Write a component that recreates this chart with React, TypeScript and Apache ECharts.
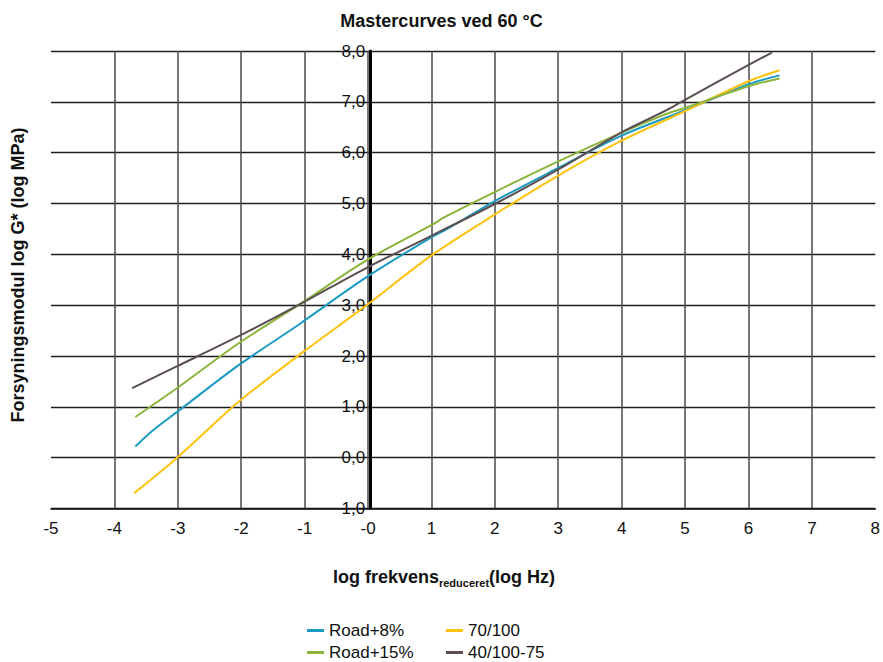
import React, { useEffect, useRef } from "react";
import * as echarts from "echarts";

const titleText = "Mastercurves ved 60 °C";
const yTitle = "Forsyningsmodul log G* (log MPa)";
const seriesNames = ["Road+8%", "70/100", "Road+15%", "40/100-75"];
const seriesColors = ["#1b9bc2", "#ffc20e", "#8cb43a", "#5b504f"];

const road8X = [-3.67, -3.4, -3.01, -2.04, -1.1, -1.0, 0, 0.99, 1.25, 2.02, 3.0, 3.99, 4.97, 6.01, 6.49];
const road8Y = [0.22, 0.53, 0.9, 1.82, 2.61, 2.7, 3.57, 4.33, 4.5, 5.06, 5.7, 6.33, 6.82, 7.35, 7.52];

const pen70X = [-3.69, -3.01, -2.04, -1.0, 0, 0.99, 2.02, 3.0, 3.99, 4.97, 6.01, 6.49];
const pen70Y = [-0.7, 0.0, 1.1, 2.1, 3.02, 3.97, 4.8, 5.55, 6.23, 6.8, 7.41, 7.62];

const road15X = [-3.67, -3.01, -2.04, -1.1, 0, 0.99, 1.25, 2.02, 3.0, 3.99, 4.7, 4.97, 6.01, 6.49];
const road15Y = [0.8, 1.37, 2.25, 3.0, 3.9, 4.57, 4.76, 5.24, 5.83, 6.39, 6.76, 6.87, 7.31, 7.46];

const pmbX = [-3.72, -3.01, -2.04, -1.1, 0, 0.99, 2.03, 3.0, 4.0, 4.7, 4.97, 6.01, 6.37];
const pmbY = [1.37, 1.8, 2.39, 3.0, 3.75, 4.36, 5.01, 5.67, 6.4, 6.83, 7.02, 7.73, 7.97];

const xMin = -5, xMax = 8, yMin = -1, yMax = 8;

const FONT = "'Liberation Sans', Arial, sans-serif";

const GRID_LEFT = 51;
const GRID_RIGHT = 2;
const CHART_W = 883;

// legend slots: [series index, left, top]
const legendSlots: [number, number, number][] = [
  [0, 307, 622],
  [2, 307, 644],
  [1, 446, 622],
  [3, 446, 644],
];

function pairs(xs: number[], ys: number[]) {
  return xs.map((x, i) => [x, ys[i]]);
}

export default function App() {
  const ref = useRef<HTMLDivElement>(null);
  useEffect(() => {
    if (!ref.current) return;
    const chart = echarts.init(ref.current, null, { renderer: "svg" });
    const datasets = [pairs(road8X, road8Y), pairs(pen70X, pen70Y), pairs(road15X, road15Y), pairs(pmbX, pmbY)];
    const plotW = CHART_W - GRID_LEFT - GRID_RIGHT;
    const zeroOffset = ((0 - xMin) / (xMax - xMin)) * plotW;
    chart.setOption({
      animation: false,
      backgroundColor: "#ffffff",
      textStyle: { fontFamily: FONT },
      title: {
        text: titleText,
        left: "center",
        top: 12,
        padding: 0,
        textStyle: { fontFamily: FONT, fontSize: 18, fontWeight: "bold", color: "#111" },
      },
      grid: { left: GRID_LEFT, right: GRID_RIGHT, top: 51, bottom: 153.5, containLabel: false },
      xAxis: {
        type: "value",
        min: xMin,
        max: xMax,
        interval: 1,
        axisLine: { onZero: false, lineStyle: { color: "#111", width: 1.6 } },
        axisTick: { show: false },
        axisLabel: {
          margin: 11,
          fontSize: 17,
          color: "#111",
          fontFamily: FONT,
          formatter: (v: number) => (v === 0 ? "-0" : String(v)),
        },
        splitLine: { show: true, showMinLine: false, showMaxLine: false, lineStyle: { color: "#4a4a4a", width: 1.5 } },
      },
      yAxis: {
        type: "value",
        min: yMin,
        max: yMax,
        interval: 1,
        position: "left",
        offset: -zeroOffset,
        axisLine: { onZero: false, lineStyle: { color: "#000", width: 3 } },
        axisTick: { show: false },
        axisLabel: {
          margin: 5,
          fontSize: 17,
          color: "#111",
          fontFamily: FONT,
          formatter: (v: number) => Math.abs(v).toFixed(1).replace(".", ","),
        },
        splitLine: { show: true, lineStyle: { color: "#1e1e1e", width: 1.4 } },
      },
      legend: legendSlots.map(([si, left, top]) => ({
        data: [seriesNames[si]],
        orient: "horizontal",
        left,
        top,
        padding: 0,
        icon: "rect",
        itemWidth: 17,
        itemHeight: 3,
        itemTextGap: 6,
        textStyle: { fontSize: 17, color: "#111", fontFamily: FONT, lineHeight: 14 },
      })),
      graphic: [
        {
          type: "text",
          x: 18,
          y: 275,
          rotation: Math.PI / 2,
          style: {
            text: yTitle,
            fontSize: 18,
            fontWeight: "bold",
            fontFamily: FONT,
            fill: "#111",
            align: "center",
            verticalAlign: "middle",
          },
        },
        {
          type: "text",
          x: 444,
          y: 577,
          style: {
            text: "{m|log frekvens}{s|reduceret}{m|(log Hz)}",
            align: "center",
            verticalAlign: "middle",
            fill: "#111",
            rich: {
              m: { fontSize: 18, fontWeight: "bold", fontFamily: FONT, lineHeight: 22, fill: "#111" },
              s: { fontSize: 11, fontWeight: "bold", fontFamily: FONT, lineHeight: 8, verticalAlign: "bottom", fill: "#111" },
            },
          },
        },
      ],
      series: seriesNames.map((name, i) => ({
        name,
        type: "line",
        data: datasets[i],
        showSymbol: false,
        symbol: "none",
        smooth: 0.3,
        lineStyle: { color: seriesColors[i], width: 2 },
        itemStyle: { color: seriesColors[i] },
        z: 3 + i,
      })),
    });
    return () => chart.dispose();
  }, []);
  return <div ref={ref} style={{ width: 883, height: 662, position: "absolute", left: 0, top: 0 }} />;
}
